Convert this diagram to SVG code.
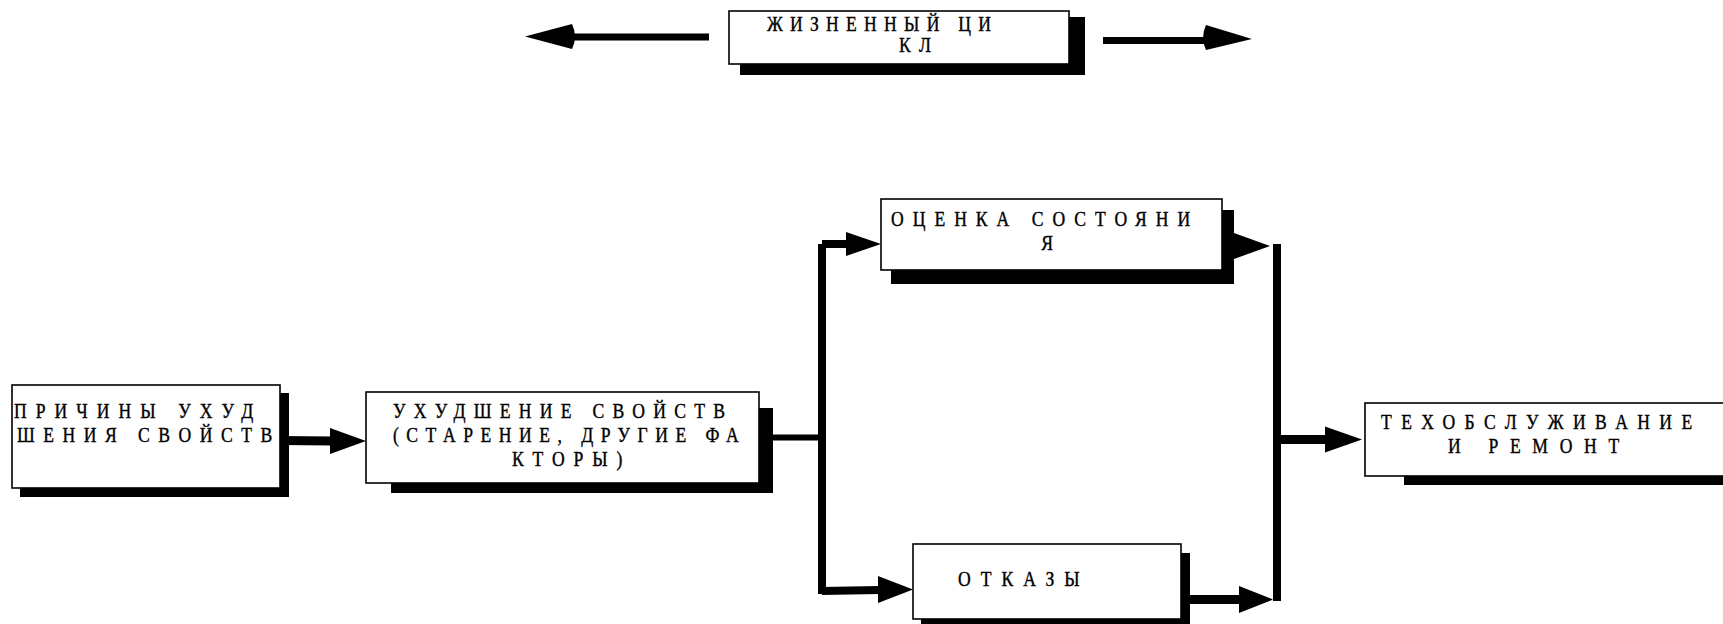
<svg xmlns="http://www.w3.org/2000/svg" width="1723" height="624" viewBox="0 0 1723 624">
<style>
.box{fill:#fff;stroke:#000;stroke-width:1.6}
.sh{fill:#000}
text{font-family:'Liberation Serif','Times New Roman',serif;font-size:22px;fill:#000;stroke:#000;stroke-width:0.4}
.ln{stroke:#000;fill:none}
.hd{fill:#000}
</style>
<rect width="1723" height="624" fill="#fff"/>
<g id="connectors">
  <line class="ln" x1="568" y1="37" x2="709" y2="37" stroke-width="7"/>
  <path class="hd" d="M525,36.5 L572,24 Q578,36.5 572,49 Z"/>
  <line class="ln" x1="1103" y1="40.5" x2="1208" y2="40.5" stroke-width="7"/>
  <path class="hd" d="M1252,39 L1206,25 Q1200,38 1206,50 Z"/>
  <line class="ln" x1="280" y1="440.5" x2="332" y2="441" stroke-width="9"/>
  <polygon class="hd" points="366,441 330,428 330,454"/>
  <line class="ln" x1="772" y1="437.5" x2="826" y2="437.5" stroke-width="6"/>
  <line class="ln" x1="822" y1="244" x2="822" y2="594" stroke-width="8"/>
  <line class="ln" x1="822" y1="244" x2="848" y2="244" stroke-width="8"/>
  <polygon class="hd" points="881,244 846,232 846,256"/>
  <line class="ln" x1="822" y1="591" x2="880" y2="590" stroke-width="8"/>
  <polygon class="hd" points="913,589.5 878,576 878,603"/>
  <polygon class="hd" points="1270,246 1234,233 1234,259"/>
  <line class="ln" x1="1277" y1="244" x2="1277" y2="601" stroke-width="8"/>
  <line class="ln" x1="1190" y1="599.5" x2="1241" y2="599.5" stroke-width="9"/>
  <polygon class="hd" points="1273,599.5 1239,586 1239,613"/>
  <line class="ln" x1="1277" y1="439.5" x2="1327" y2="439.5" stroke-width="9"/>
  <polygon class="hd" points="1362,439.5 1325,426.5 1325,452.5"/>
</g>
<g id="node-lifecycle">
  <rect class="sh" x="740" y="17" width="345" height="58"/>
  <rect class="box" x="729" y="11" width="340" height="53"/>
  <text transform="translate(767,31) scale(0.8,1)" textLength="280" lengthAdjust="spacing">ЖИЗНЕННЫЙ ЦИ</text>
  <text transform="translate(899,52) scale(0.8,1)" textLength="40" lengthAdjust="spacing">КЛ</text>
</g>
<g id="node-causes">
  <rect class="sh" x="20" y="393" width="269" height="104"/>
  <rect class="box" x="12" y="385" width="268" height="103"/>
  <text transform="translate(14,418) scale(0.8,1)" textLength="299" lengthAdjust="spacing">ПРИЧИНЫ УХУД</text>
  <text transform="translate(17,442) scale(0.8,1)" textLength="319" lengthAdjust="spacing">ШЕНИЯ СВОЙСТВ</text>
</g>
<g id="node-degradation">
  <rect class="sh" x="391" y="408" width="382" height="85"/>
  <rect class="box" x="366" y="392" width="393" height="91"/>
  <text transform="translate(393,418) scale(0.8,1)" textLength="415" lengthAdjust="spacing">УХУДШЕНИЕ СВОЙСТВ</text>
  <text transform="translate(393,442) scale(0.8,1)" textLength="432" lengthAdjust="spacing">(СТАРЕНИЕ, ДРУГИЕ ФА</text>
  <text transform="translate(512,466) scale(0.8,1)" textLength="138" lengthAdjust="spacing">КТОРЫ)</text>
</g>
<g id="node-assessment">
  <rect class="sh" x="891" y="210" width="343" height="74"/>
  <rect class="box" x="881" y="199" width="341" height="71"/>
  <text transform="translate(891,226) scale(0.8,1)" textLength="374" lengthAdjust="spacing">ОЦЕНКА СОСТОЯНИ</text>
  <text transform="translate(1047,250) scale(0.8,1)" text-anchor="middle">Я</text>
</g>
<g id="node-failures">
  <rect class="sh" x="921" y="553" width="269" height="75"/>
  <rect class="box" x="913" y="544" width="268" height="75"/>
  <text transform="translate(958,586) scale(0.8,1)" textLength="152" lengthAdjust="spacing">ОТКАЗЫ</text>
</g>
<g id="node-maintenance">
  <rect class="sh" x="1404" y="412" width="330" height="73"/>
  <rect class="box" x="1365" y="403" width="370" height="73"/>
  <text transform="translate(1381,429) scale(0.8,1)" textLength="389" lengthAdjust="spacing">ТЕХОБСЛУЖИВАНИЕ</text>
  <text transform="translate(1448,453) scale(0.8,1)" textLength="214" lengthAdjust="spacing">И РЕМОНТ</text>
</g>
</svg>
